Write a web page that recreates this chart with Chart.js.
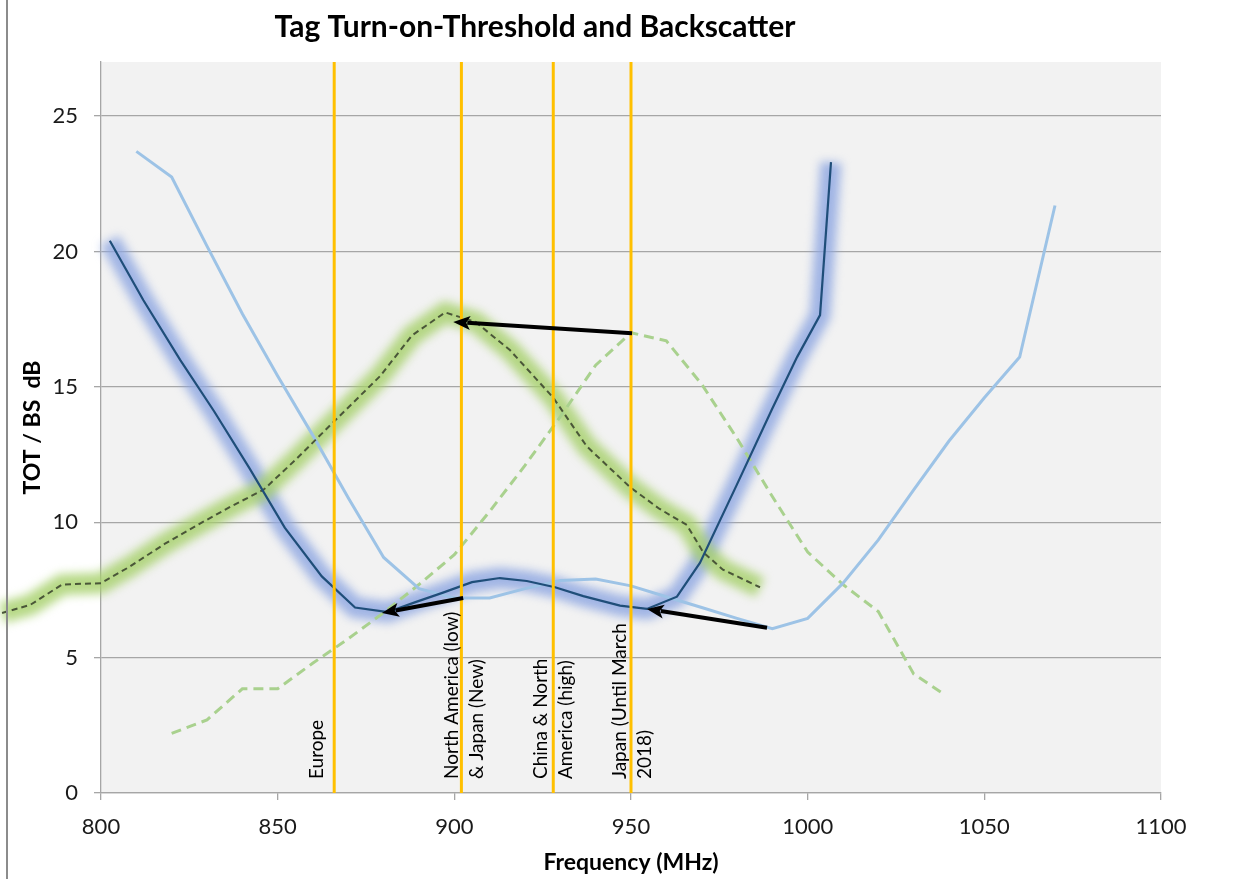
<!DOCTYPE html>
<html>
<head>
<meta charset="utf-8">
<script src="https://cdn.jsdelivr.net/npm/chart.js@4.4.0/dist/chart.umd.min.js"></script>
<style>
    html, body { margin: 0; padding: 0; background: #fff; }
    #wrap { position: relative; width: 1236px; height: 879px; }
    #edge { position: absolute; left: 6px; top: 0; width: 2px; height: 879px; background: #8c8c8c; }
</style>
</head>
<body>
<div id="wrap">
    <canvas id="myChart" width="1236" height="879"></canvas>
    <div id="edge"></div>
</div>
<script>
// Tag turn-on-threshold (TOT), new tag (dark blue, glow)
const freqTotNew = [802.5, 812, 822.4, 832, 842, 852, 862.5, 871.9, 881.2, 889, 896.8, 905, 912.9, 920.5, 928.5, 936.5, 946.9, 954.5, 963, 969.5, 980, 990, 997, 1003.5, 1006.6];
const totNew = [20.4, 18.2, 16.0, 14.1, 12.0, 9.8, 8.0, 6.85, 6.68, 7.05, 7.4, 7.79, 7.94, 7.83, 7.6, 7.27, 6.92, 6.8, 7.25, 8.5, 11.4, 14.2, 16.1, 17.65, 23.3];

// Tag turn-on-threshold, old tag (light blue)
const freqTotOld = [810, 820, 830, 840, 850, 860, 870, 880, 890, 900, 910, 920, 930, 940, 950, 960, 970, 980, 990, 1000, 1010, 1020, 1030, 1040, 1050, 1060, 1070];
const totOld = [23.7, 22.75, 20.2, 17.7, 15.4, 13.2, 10.9, 8.7, 7.55, 7.2, 7.2, 7.55, 7.85, 7.9, 7.65, 7.25, 6.85, 6.45, 6.07, 6.45, 7.75, 9.35, 11.2, 13.0, 14.6, 16.1, 21.7];

// Backscatter, new tag (dark dashed, green glow)
const freqBsNew = [772, 780, 789, 800, 808, 818, 828, 837, 846, 855, 865, 872, 879, 888, 897.4, 906, 915.8, 928, 937.5, 949.7, 958, 965.8, 970.4, 976, 986.5];
const bsNew = [6.65, 6.95, 7.7, 7.75, 8.35, 9.2, 9.95, 10.6, 11.2, 12.3, 13.6, 14.5, 15.4, 16.9, 17.75, 17.4, 16.35, 14.6, 12.8, 11.3, 10.5, 9.9, 8.9, 8.25, 7.6];

// Backscatter, old tag (light green dashed)
const freqBsOld = [820, 830, 840, 850, 860, 870, 880, 890, 900, 910, 920, 930, 940, 950, 960, 970, 980, 990, 1000, 1010, 1020, 1030, 1038];
const bsOld = [2.2, 2.7, 3.85, 3.85, 4.8, 5.7, 6.66, 7.7, 8.8, 10.4, 12.1, 13.9, 15.8, 17.0, 16.7, 15.1, 13.1, 10.95, 8.9, 7.7, 6.7, 4.4, 3.7];

// Regional bands
const bandFreqs = [866, 902, 928, 950];
const bandLabels = [
    ['Europe'],
    ['North America (low)', '& Japan (New)'],
    ['China & North', 'America (high)'],
    ['Japan (Until March', '2018)']
];
const bandLabelShift = [-17, -10, -12, -11]; // px, first text line relative to band line

// Arrows (old -> new), in data units
const arrowFromFreq = [950.3, 902.5, 988.5];
const arrowFromDb = [16.98, 7.2, 6.1];
const arrowToFreq = [899.7, 879.5, 954.5];
const arrowToDb = [17.4, 6.65, 6.8];

const toPoints = (xs, ys) => xs.map((x, i) => ({ x: x, y: ys[i] }));

const datasets = [];

// orange band lines
bandFreqs.forEach(f => {
    datasets.push({
        label: 'band ' + f,
        data: [{ x: f, y: 0 }, { x: f, y: 27 }],
        borderColor: '#FFC000',
        borderWidth: 3,
        pointRadius: 0,
        order: 0
    });
});

datasets.push(
    {
        label: 'TOT new',
        data: toPoints(freqTotNew, totNew),
        borderColor: '#1f4e79',
        borderWidth: 2.2,
        pointRadius: 0,
        order: 1
    },
    {
        label: 'BS new',
        data: toPoints(freqBsNew, bsNew),
        borderColor: '#4a5638',
        borderWidth: 2,
        borderDash: [6, 4],
        pointRadius: 0,
        clip: false,
        order: 2
    },
    {
        label: 'TOT old',
        data: toPoints(freqTotOld, totOld),
        borderColor: '#9dc3e6',
        borderWidth: 3,
        pointRadius: 0,
        order: 3
    },
    {
        label: 'BS old',
        data: toPoints(freqBsOld, bsOld),
        borderColor: '#a9d18e',
        borderWidth: 3,
        borderDash: [10, 6],
        pointRadius: 0,
        order: 4
    },
    {
        label: 'BS new glow',
        data: toPoints(freqBsNew, bsNew),
        borderColor: 'rgba(165, 208, 105, 0.8)',
        borderWidth: 21,
        pointRadius: 0,
        glow: true,
        clip: false,
        order: 5
    },
    {
        label: 'TOT new glow',
        data: toPoints(freqTotNew, totNew),
        borderColor: 'rgba(140, 165, 225, 0.8)',
        borderWidth: 21,
        pointRadius: 0,
        glow: true,
        order: 6
    }
);

function drawArrow(ctx, x1, y1, x2, y2) {
    const ang = Math.atan2(y2 - y1, x2 - x1);
    const head = 17, half = 7;
    const bx = x2 - head * Math.cos(ang);
    const by = y2 - head * Math.sin(ang);
    ctx.strokeStyle = '#000';
    ctx.fillStyle = '#000';
    ctx.lineWidth = 4;
    ctx.beginPath();
    ctx.moveTo(x1, y1);
    ctx.lineTo(bx + 3 * Math.cos(ang), by + 3 * Math.sin(ang));
    ctx.stroke();
    ctx.beginPath();
    ctx.moveTo(x2, y2);
    ctx.lineTo(bx + half * Math.sin(ang), by - half * Math.cos(ang));
    ctx.lineTo(bx + 4 * Math.cos(ang), by + 4 * Math.sin(ang));
    ctx.lineTo(bx - half * Math.sin(ang), by + half * Math.cos(ang));
    ctx.closePath();
    ctx.fill();
}

const decorPlugin = {
    id: 'decor',
    beforeDraw(chart) {
        const { ctx, chartArea: a } = chart;
        ctx.save();
        ctx.fillStyle = '#f2f2f2';
        ctx.fillRect(a.left, a.top, a.right - a.left, a.bottom - a.top);
        ctx.restore();
    },
    beforeDatasetDraw(chart, args) {
        const ds = chart.data.datasets[args.index];
        chart.ctx.save();
        if (ds.glow) chart.ctx.filter = 'blur(5px)';
    },
    afterDatasetDraw(chart) {
        chart.ctx.restore();
    },
    afterDatasetsDraw(chart) {
        const { ctx, chartArea: a, scales: { x, y } } = chart;
        ctx.save();
        // arrows
        arrowFromFreq.forEach((f, i) => {
            drawArrow(ctx,
                x.getPixelForValue(f), y.getPixelForValue(arrowFromDb[i]),
                x.getPixelForValue(arrowToFreq[i]), y.getPixelForValue(arrowToDb[i]));
        });
        // band labels, rotated
        ctx.fillStyle = '#000';
        ctx.font = '19px Lato';
        ctx.textAlign = 'left';
        ctx.textBaseline = 'middle';
        bandFreqs.forEach((f, i) => {
            const px = x.getPixelForValue(f) + bandLabelShift[i];
            bandLabels[i].forEach((line, j) => {
                ctx.save();
                ctx.translate(px + j * 25, a.bottom - 14);
                ctx.rotate(-Math.PI / 2);
                ctx.fillText(line, 0, 0);
                ctx.restore();
            });
        });
        ctx.restore();
    },
    afterDraw(chart) {
        const ctx = chart.ctx;
        ctx.save();
        ctx.fillStyle = '#000';
        ctx.font = 'bold 30px Lato';
        ctx.textAlign = 'center';
        ctx.textBaseline = 'middle';
        ctx.fillText('Tag Turn-on-Threshold and Backscatter', 535, 27);
        ctx.restore();
    }
};

const ctx = document.getElementById('myChart').getContext('2d');

new Chart(ctx, {
    type: 'line',
    data: { datasets: datasets },
    options: {
        responsive: false,
        animation: false,
        devicePixelRatio: 1,
        layout: { padding: { top: 62, right: 75, left: 0, bottom: 0 } },
        elements: { line: { tension: 0 } },
        plugins: {
            legend: { display: false },
            tooltip: { enabled: false },
            title: { display: false }
        },
        scales: {
            x: {
                type: 'linear',
                // range set here (not min/max) so the line left of 800 MHz is still drawn
                afterDataLimits(scale) { scale.min = 800; scale.max = 1100; },
                afterFit(scale) { scale.height = 86; },
                ticks: {
                    stepSize: 50,
                    padding: 14,
                    color: '#1a1a1a',
                    font: { family: 'Lato', size: 22 },
                    maxRotation: 0,
                    callback: v => String(v)
                },
                grid: { drawOnChartArea: false, tickLength: 7, color: '#a6a6a6', lineWidth: 1.3 },
                border: { color: '#a6a6a6', width: 1.3 },
                title: {
                    display: true,
                    text: 'Frequency (MHz)',
                    color: '#000',
                    font: { family: 'Lato', size: 23, weight: 'bold' },
                    padding: { top: 0, bottom: 3 }
                }
            },
            y: {
                min: 0,
                max: 27,
                afterFit(scale) { scale.width = 101; },
                ticks: {
                    stepSize: 5,
                    includeBounds: false,
                    padding: 16,
                    color: '#1a1a1a',
                    font: { family: 'Lato', size: 22 }
                },
                grid: { color: '#a6a6a6', lineWidth: 1.3, tickLength: 7 },
                border: { color: '#a6a6a6', width: 1.3 },
                title: {
                    display: true,
                    text: 'TOT / BS  dB',
                    color: '#000',
                    font: { family: 'Lato', size: 23, weight: 'bold' },
                    padding: { top: 19, bottom: 0 }
                }
            }
        }
    },
    plugins: [decorPlugin]
});
</script>
</body>
</html>
